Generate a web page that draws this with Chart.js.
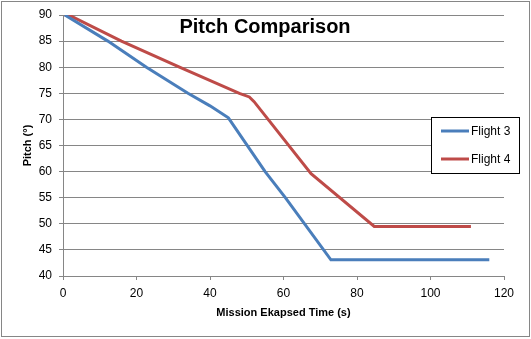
<!DOCTYPE html>
<html>
<head>
<meta charset="utf-8">
<script src="https://cdn.jsdelivr.net/npm/chart.js@4/dist/chart.umd.min.js"></script>
<style>
html,body{margin:0;padding:0;background:#fff;}
canvas{display:block;}
</style>
</head>
<body>
<canvas id="c" width="531" height="339"></canvas>
<script>
// ---- data ----
const chartTitle = 'Pitch Comparison';
const xAxisTitle = 'Mission Ekapsed Time (s)';
const yAxisTitle = 'Pitch (°)';
const seriesNames = ['Flight 3', 'Flight 4'];
const flight3Time  = [0.5, 12.2, 22.7, 34, 40, 45, 55, 60.5, 72.9, 116];
const flight3Pitch = [90, 85, 80, 75, 72.6, 70.3, 60, 55, 43.1, 43.1];
const flight4Time  = [0.5, 2.5, 15.9, 31.7, 48, 50.7, 52, 67.5, 84.7, 111];
const flight4Pitch = [90, 89.7, 85, 80, 75, 74.3, 73.4, 59.6, 49.5, 49.5];
const xTicks = [0, 20, 40, 60, 80, 100, 120];
const yTicks = [40, 45, 50, 55, 60, 65, 70, 75, 80, 85, 90];

const toPts = (xs, ys) => xs.map((x, i) => ({x: x, y: ys[i]}));
const FONT = "'Liberation Sans', Arial, sans-serif";
Chart.defaults.font.family = FONT;
Chart.defaults.color = '#000';

const frameAndOverlay = {
  id: 'frameAndOverlay',
  beforeDraw(chart) {
    const ctx = chart.ctx;
    ctx.save();
    ctx.fillStyle = '#fff';
    ctx.fillRect(0, 0, chart.width, chart.height);
    ctx.strokeStyle = '#868686';
    ctx.lineWidth = 1;
    ctx.strokeRect(1.5, 1.5, 528, 335);
    ctx.restore();
  },
  afterDraw(chart) {
    const ctx = chart.ctx;
    ctx.save();
    // title
    ctx.fillStyle = '#000';
    ctx.font = "bold 20px " + FONT;
    ctx.textAlign = 'center';
    ctx.textBaseline = 'alphabetic';
    ctx.fillText(chartTitle, 265, 33);
    // legend
    ctx.fillStyle = '#fff';
    ctx.fillRect(431.5, 117.5, 88, 56);
    ctx.strokeStyle = '#000';
    ctx.lineWidth = 1;
    ctx.strokeRect(431.5, 117.5, 88, 56);
    const ys = [131, 159];
    chart.data.datasets.forEach((ds, i) => {
      ctx.strokeStyle = ds.borderColor;
      ctx.lineWidth = 3;
      ctx.beginPath();
      ctx.moveTo(441, ys[i]);
      ctx.lineTo(469, ys[i]);
      ctx.stroke();
      ctx.fillStyle = '#000';
      ctx.font = "12px " + FONT;
      ctx.textAlign = 'left';
      ctx.textBaseline = 'middle';
      ctx.fillText(ds.label, 471, ys[i] + 0.5);
    });
    ctx.restore();
  }
};

new Chart(document.getElementById('c'), {
  type: 'line',
  data: {
    datasets: [
      { label: seriesNames[0], data: toPts(flight3Time, flight3Pitch),
        borderColor: '#4A7EBB', borderWidth: 3, pointRadius: 0, tension: 0, fill: false },
      { label: seriesNames[1], data: toPts(flight4Time, flight4Pitch),
        borderColor: '#BE4B48', borderWidth: 3, pointRadius: 0, tension: 0, fill: false }
    ]
  },
  options: {
    responsive: false,
    animation: false,
    devicePixelRatio: 1,
    layout: { padding: { top: 15, right: 27, left: 0, bottom: 0 } },
    plugins: { legend: { display: false }, title: { display: false }, tooltip: { enabled: false } },
    scales: {
      x: {
        type: 'linear', min: 0, max: 120,
        afterFit(s) { s.height = 63; },
        afterBuildTicks(s) { s.ticks = xTicks.map(v => ({value: v})); },
        grid: { drawOnChartArea: false, drawTicks: true, tickLength: 4, color: '#868686' },
        border: { color: '#868686' },
        ticks: { font: { size: 12 }, padding: 6, maxRotation: 0, color: '#000' },
        title: { display: true, text: xAxisTitle, font: { size: 11, weight: 'bold' }, padding: { top: 0, bottom: 19 }, color: '#000' }
      },
      y: {
        type: 'linear', min: 40, max: 90,
        afterFit(s) { s.width = 63; },
        afterBuildTicks(s) { s.ticks = yTicks.map(v => ({value: v})); },
        grid: { color: '#868686', drawTicks: true, tickLength: 4 },
        border: { color: '#868686' },
        ticks: { font: { size: 12 }, padding: 7, color: '#000' },
        title: { display: true, text: yAxisTitle, font: { size: 11, weight: 'bold' }, padding: { top: 21, bottom: 0 }, color: '#000' }
      }
    }
  },
  plugins: [frameAndOverlay]
});
</script>
</body>
</html>
